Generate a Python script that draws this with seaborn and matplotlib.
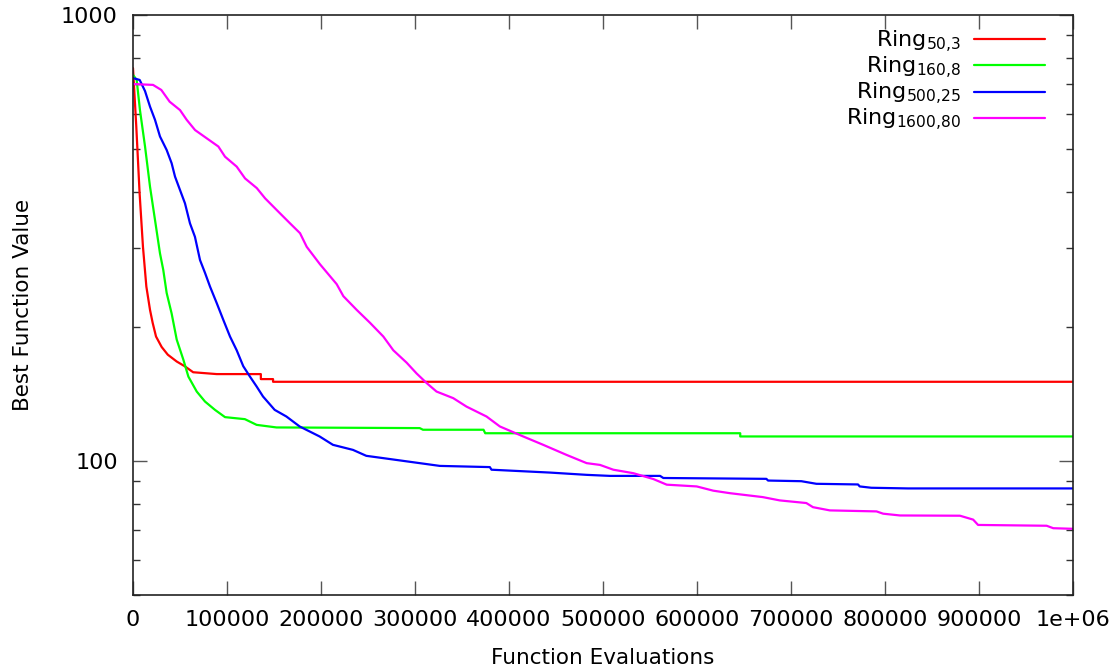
import numpy as np
import pandas as pd
import matplotlib
matplotlib.use("Agg")
import matplotlib.pyplot as plt
import seaborn as sns

# ---------------- data ----------------
series_names = ["Ring$_{50{,}3}$", "Ring$_{160{,}8}$", "Ring$_{500{,}25}$", "Ring$_{1600{,}80}$"]
series_colors = ["#ff0000", "#00ff00", "#0000ff", "#ff00ff"]

red_x = [0, 3500, 7000, 10600, 14200, 18100, 20900, 24500, 30500, 37000, 46500, 55000,
         64000, 89000, 136000, 136000, 149000, 149000, 1000000]
red_y = [760, 562, 399, 302, 246, 218, 204, 190, 180, 173, 167, 163,
         158, 156.5, 156.5, 152.5, 152.5, 150.4, 150.4]

green_x = [0, 3900, 7400, 12800, 18100, 23400, 28700, 32200, 35800, 41100, 46500, 53600,
           58900, 67800, 76600, 87200, 97900, 119000, 131500, 152700, 305000, 308500,
           372900, 374700, 646000, 646000, 1000000]
green_y = [734, 715, 612, 507, 412, 347, 292, 268, 238, 214, 187, 168.5,
           154.5, 143, 135.8, 130.1, 125.3, 124, 120.4, 118.8, 118.4, 117.4,
           117.4, 115.3, 115.3, 113.4, 113.4]

blue_x = [0, 7100, 12800, 18100, 23400, 28700, 35800, 41100, 44700, 50000, 55300, 60600,
          65900, 71300, 76600, 81900, 89000, 96100, 103200, 110300, 117300, 124400,
          131500, 138300, 150700, 163200, 177300, 198500, 212700, 234000, 248200, 266000,
          305000, 326400, 379600, 381400, 443600, 482600, 507500, 560700, 564200, 673800,
          675600, 711000, 727000, 771300, 773100, 785400, 824400, 1000000]
blue_y = [722, 715, 675, 623, 582, 534, 498, 465, 434, 405, 378, 341,
          318, 282, 264, 246, 226, 207, 190, 177, 163, 154.5,
          146.8, 139.4, 130.1, 125.7, 119.4, 113.4, 108.6, 105.8, 102.6, 101.4,
          98.8, 97.4, 96.8, 95.5, 94.1, 93.0, 92.5, 92.5, 91.5, 91.1,
          90.3, 90.0, 88.8, 88.5, 87.6, 87.0, 86.7, 86.7]

magenta_x = [0, 21300, 30100, 39000, 50000, 57100, 66000, 78400, 90800, 97900, 110300,
             119200, 131700, 140500, 153000, 167000, 177700, 184800, 198900, 216700,
             223800, 238000, 252100, 266300, 276900, 291100, 301700, 312400, 322900,
             340700, 354800, 376100, 390300, 415100, 436400, 461200, 482600, 496800,
             511000, 532300, 553600, 567800, 599700, 617300, 635000, 670000, 688000,
             716300, 723400, 741300, 791000, 798000, 816000, 879800, 893800, 899000,
             972000, 979000, 998000, 1000000]
magenta_y = [700, 697, 679, 639, 612, 582, 552, 529, 507, 481, 457,
             430, 409, 388, 365, 341, 324, 302, 276, 249,
             234, 218, 204, 190, 177, 166, 157, 149.4, 143,
             138.2, 132.3, 125.7, 119.4, 113.4, 108.6, 103.1, 98.8, 97.9,
             95.5, 93.8, 91.0, 88.4, 87.6, 85.7, 84.6, 82.9, 81.5,
             80.4, 78.7, 77.4, 77.0, 76.1, 75.4, 75.3, 73.8, 71.8,
             71.5, 70.6, 70.4, 70.4]

x_ticks = [0, 100000, 200000, 300000, 400000, 500000, 600000, 700000, 800000, 900000, 1000000]
x_tick_labels = ["0", "100000", "200000", "300000", "400000", "500000", "600000",
                 "700000", "800000", "900000", "1e+06"]
y_ticks = [100, 1000]
y_tick_labels = ["100", "1000"]

# ---------------- build long-form table ----------------
frames = []
for name, xs, ys in zip(series_names,
                        [red_x, green_x, blue_x, magenta_x],
                        [red_y, green_y, blue_y, magenta_y]):
    frames.append(pd.DataFrame({"evals": xs, "value": ys, "series": name}))
df = pd.concat(frames, ignore_index=True)

# ---------------- styling ----------------
sns.set_style("ticks")
plt.rcParams["font.family"] = ["DejaVu Sans"]
plt.rcParams["mathtext.fontset"] = "dejavusans"
plt.rcParams["text.color"] = "black"
plt.rcParams["axes.labelcolor"] = "black"
plt.rcParams["xtick.labelcolor"] = "black"
plt.rcParams["ytick.labelcolor"] = "black"

fig = plt.figure(figsize=(11.15, 6.7), dpi=100)
ax = fig.add_axes([133 / 1115, 1 - 595 / 670, 940 / 1115, 580 / 670])

sns.lineplot(data=df, x="evals", y="value", hue="series", hue_order=series_names,
             palette=series_colors, estimator=None, sort=False, units="series",
             linewidth=1.6, ax=ax, legend=True)

ax.set_yscale("log")
ax.set_xlim(0, 1000000)
ax.set_ylim(50, 1000)

ax.set_xticks(x_ticks)
ax.set_xticklabels(x_tick_labels)
ax.set_yticks(y_ticks)
ax.set_yticklabels(y_tick_labels)
ax.yaxis.set_minor_locator(matplotlib.ticker.LogLocator(base=10, subs=np.arange(2, 10)))
ax.yaxis.set_minor_formatter(matplotlib.ticker.NullFormatter())

ax.tick_params(axis="both", which="major", direction="in", length=10, width=1,
               color="#555555", labelsize=16, labelcolor="black", top=True, right=True, pad=11)
ax.tick_params(axis="both", which="minor", direction="in", length=5, width=1,
               color="#333333", top=False, right=True)
ax.tick_params(axis="x", which="minor", bottom=False, top=False)
for s in ax.spines.values():
    s.set_visible(True)
    s.set_color("#222222")
    s.set_linewidth(1.2)

ax.set_xlabel("Function Evaluations", fontsize=15.5, labelpad=13, color="black")
ax.set_ylabel("Best Function Value", fontsize=15.5, labelpad=20, color="black")

handles, labels = ax.get_legend_handles_labels()
leg = ax.legend(handles, labels, loc="upper right", bbox_to_anchor=(0.970, 0.977),
                frameon=False, markerfirst=False, fontsize=16, handlelength=3.2,
                handletextpad=0.55, labelspacing=0.0, borderpad=0, borderaxespad=0)
for t in leg.get_texts():
    t.set_color("black")
for line in leg.get_lines():
    line.set_linewidth(1.6)

fig.savefig("out.png", dpi=100)
